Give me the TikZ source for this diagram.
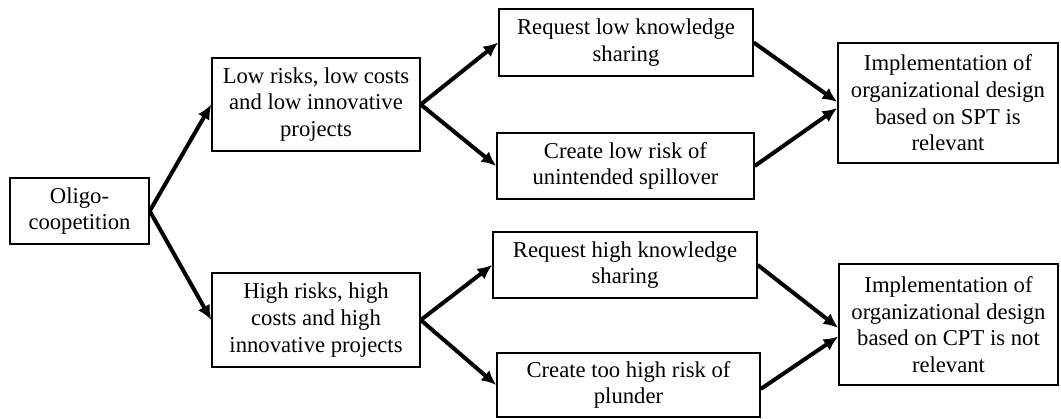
\documentclass[tikz,border=0pt]{standalone}
\usepackage{fontspec}
\setmainfont{Liberation Serif}
\usetikzlibrary{arrows.meta}

\begin{document}
\begin{tikzpicture}[x=0.75pt,y=-0.75pt,
  box/.style={draw,line width=1.1pt,align=center,inner sep=0pt,
    font=\fontsize{17}{20}\selectfont},
  link/.style={line width=3pt,-{Latex[length=11pt,width=10pt]}}]
\useasboundingbox (0,0) rectangle (1061,418);
\node[box,minimum width=104.25pt,minimum height=49.5pt] (oligo) at (79.5,211) {Oligo-\\coopetition};
\node[box,minimum width=156pt,minimum height=70pt] (low) at (316,104.5) {Low risks, low costs\\and low innovative\\projects};
\node[box,minimum width=156pt,minimum height=70.5pt] (high) at (316,320) {High risks, high\\costs and high\\innovative projects};
\node[box,minimum width=190.5pt,minimum height=50.25pt] (reqlow) at (626,42.5) {Request low knowledge\\sharing};
\node[box,minimum width=192.75pt,minimum height=49.5pt] (crelow) at (625.5,166) {Create low risk of\\unintended spillover};
\node[box,minimum width=198pt,minimum height=49.5pt] (reqhigh) at (625,265) {Request high knowledge\\sharing};
\node[box,minimum width=197.25pt,minimum height=48pt] (crehigh) at (628.5,385) {Create too high risk of\\plunder};
\node[box,minimum width=165pt,minimum height=90pt] (impltop) at (948,103) {Implementation of\\organizational design\\based on SPT is\\relevant};
\node[box,minimum width=164.25pt,minimum height=90.75pt] (implbot) at (948.5,324.5) {Implementation of\\organizational design\\based on CPT is not\\relevant};
\draw[link] (oligo.east) -- (low.west);
\draw[link] (oligo.east) -- (high.west);
\draw[link] (low.east) -- (reqlow.west);
\draw[link] (low.east) -- (crelow.west);
\draw[link] (high.east) -- (reqhigh.west);
\draw[link] (high.east) -- (crehigh.west);
\draw[link] (reqlow.east) -- ([yshift=0.75pt]impltop.west);
\draw[link] (crelow.east) -- ([yshift=-3.75pt]impltop.west);
\draw[link] (reqhigh.east) -- ([yshift=-2.5pt]implbot.west);
\draw[link] ([yshift=-3pt]crehigh.east) -- ([yshift=-9pt]implbot.west);
\end{tikzpicture}
\end{document}
